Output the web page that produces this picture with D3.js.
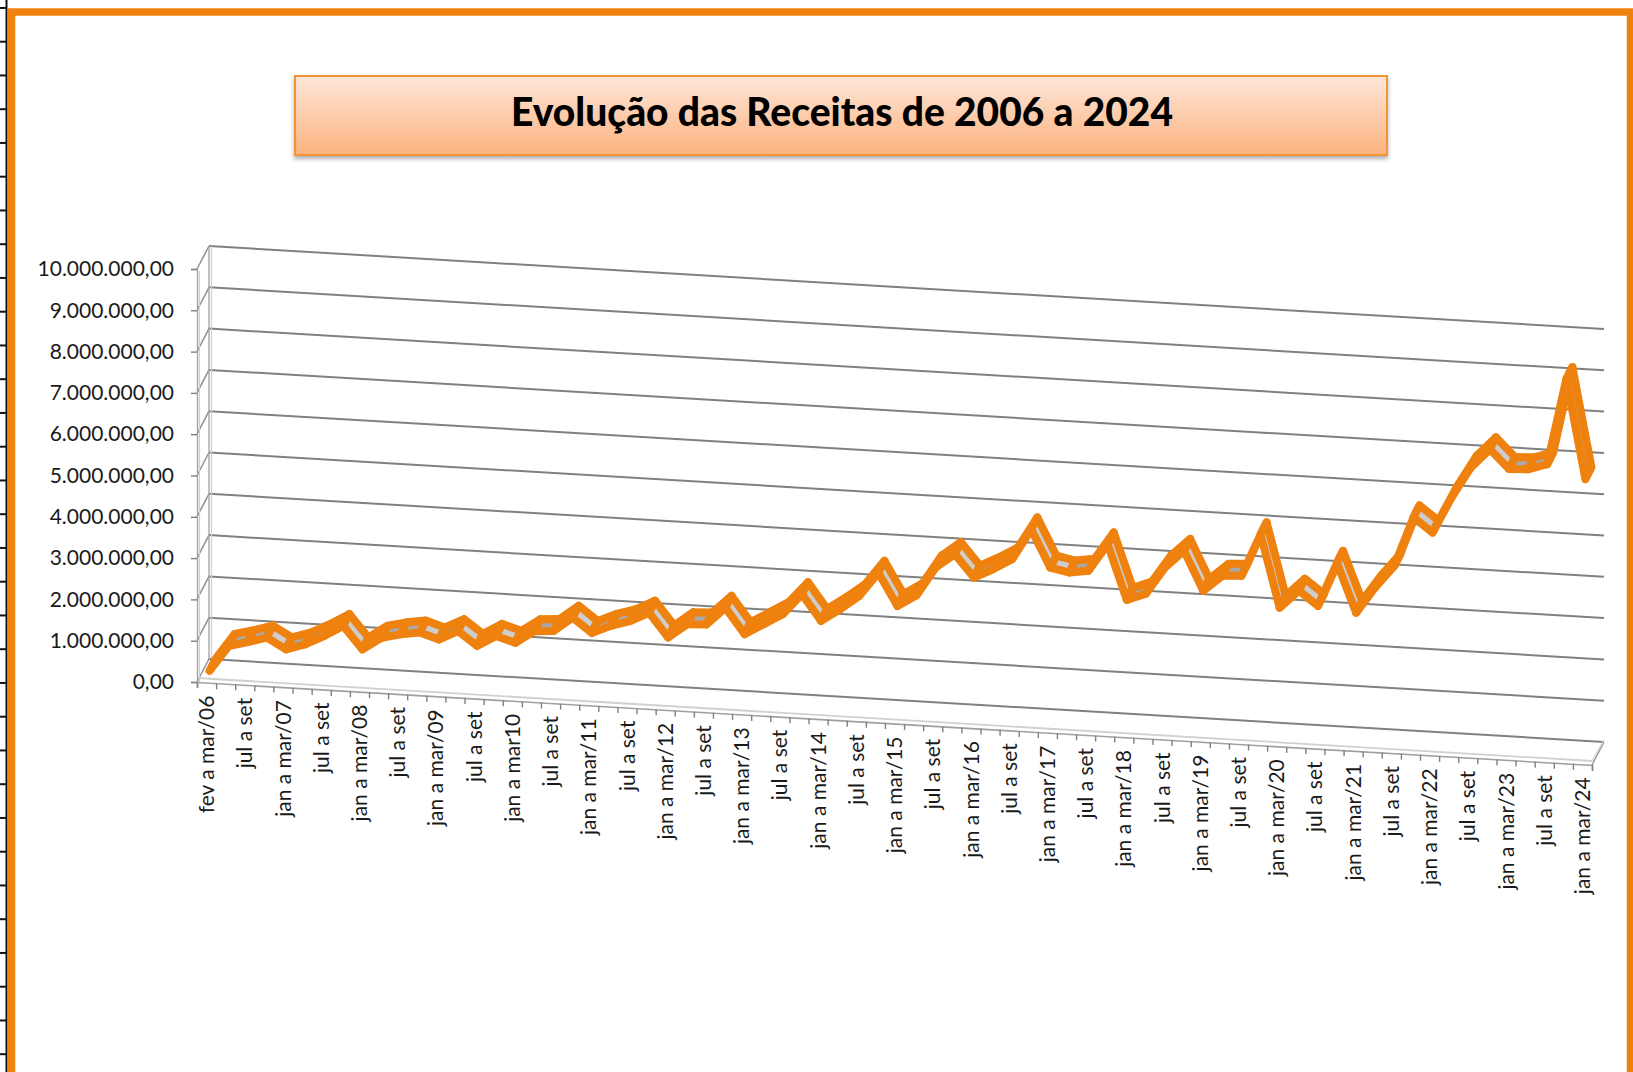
<!DOCTYPE html>
<html><head><meta charset="utf-8">
<script src="https://cdn.jsdelivr.net/npm/d3@7"></script>
<style>html,body{margin:0;padding:0;background:#fff;} svg{display:block;}</style>
</head><body>
<svg id="c" width="1633" height="1072"></svg>
<script>
const title = "Evolução das Receitas de 2006 a 2024";
const categories = [
  "fev a mar/06","abr a jun","jul a set","out a dez",
  "jan a mar/07","abr a jun","jul a set","out a dez",
  "jan a mar/08","abr a jun","jul a set","out a dez",
  "jan a mar/09","abr a jun","jul a set","out a dez",
  "jan a mar10","abr a jun","jul a set","out a dez",
  "jan a mar/11","abr a jun","jul a set","out a dez",
  "jan a mar/12","abr a jun","jul a set","out a dez",
  "jan a mar/13","abr a jun","jul a set","out a dez",
  "jan a mar/14","abr a jun","jul a set","out a dez",
  "jan a mar/15","abr a jun","jul a set","out a dez",
  "jan a mar/16","abr a jun","jul a set","out a dez",
  "jan a mar/17","abr a jun","jul a set","out a dez",
  "jan a mar/18","abr a jun","jul a set","out a dez",
  "jan a mar/19","abr a jun","jul a set","out a dez",
  "jan a mar/20","abr a jun","jul a set","out a dez",
  "jan a mar/21","abr a jun","jul a set","out a dez",
  "jan a mar/22","abr a jun","jul a set","out a dez",
  "jan a mar/23","abr a jun","jul a set","out a dez",
  "jan a mar/24"
];
const receitas = [
  150000, 780000, 900000, 1040000,
  780000, 930000, 1160000, 1430000,
  890000, 1200000, 1310000, 1380000,
  1240000, 1470000, 1140000, 1410000,
  1270000, 1580000, 1610000, 1960000,
  1620000, 1820000, 1960000, 2190000,
  1620000, 1970000, 1990000, 2420000,
  1810000, 2080000, 2350000, 2860000,
  2240000, 2550000, 2900000, 3490000,
  2710000, 3000000, 3700000, 4050000,
  3510000, 3740000, 4010000, 4760000,
  3860000, 3770000, 3840000, 4510000,
  3190000, 3370000, 4030000, 4460000,
  3520000, 3910000, 3940000, 4970000,
  3220000, 3660000, 3320000, 4390000,
  3210000, 3850000, 4400000, 5600000,
  5260000, 6140000, 6890000, 7360000,
  6910000, 6930000, 7080000, 9170000,
  6770000
];
const yTicks = [0,1000000,2000000,3000000,4000000,5000000,6000000,7000000,8000000,9000000,10000000];

const svg = d3.select("#c");
const fmt = d3.formatLocale({decimal:",",thousands:".",grouping:[3],currency:["R$",""]}).format(",.2f");

// defs
const defs = svg.append("defs");
const g1 = defs.append("linearGradient").attr("id","tg").attr("x1",0).attr("y1",0).attr("x2",0).attr("y2",1);
g1.append("stop").attr("offset","0%").attr("stop-color","#fee6d8");
g1.append("stop").attr("offset","100%").attr("stop-color","#fbb27f");
const f = defs.append("filter").attr("id","sh").attr("x","-5%").attr("y","-20%").attr("width","110%").attr("height","160%");
f.append("feDropShadow").attr("dx",0).attr("dy",3).attr("stdDeviation",2).attr("flood-color","#777").attr("flood-opacity",0.6);

// left ruler decoration
svg.append("line").attr("x1",6.5).attr("x2",6.5).attr("y1",0).attr("y2",1072).attr("stroke","#111").attr("stroke-width",2);
svg.append("g").selectAll("line").data(d3.range(-1,31)).join("line")
  .attr("x1",0).attr("x2",7).attr("y1",d=>41.7+d*33.75).attr("y2",d=>41.7+d*33.75)
  .attr("stroke","#111").attr("stroke-width",2);

// orange frame
svg.append("rect").attr("x",11.5).attr("y",12).attr("width",1619).attr("height",1100)
  .attr("fill","#fff").attr("stroke","#f0820f").attr("stroke-width",7.5);

// title box
svg.append("rect").attr("x",295).attr("y",76).attr("width",1092).attr("height",79)
  .attr("fill","url(#tg)").attr("stroke","#f39532").attr("stroke-width",2).attr("filter","url(#sh)");
svg.append("text").attr("x",842).attr("y",126).attr("text-anchor","middle")
  .attr("font-family","Lato, 'Open Sans', sans-serif").attr("font-weight","900").attr("font-size",39)
  .attr("textLength",662).attr("lengthAdjust","spacingAndGlyphs")
  .attr("fill","#000").text(title);

// 3D geometry
const X0=197, Y0=682, LEN=1395, DROP=83, DX=12, DY=23, HGT=413;
const slope = DROP/LEN;
const xs = d3.scaleBand().domain(d3.range(categories.length)).range([0,LEN]);
const bw = xs.bandwidth();
const ys = d3.scaleLinear().domain([0,10000000]).range([0,HGT]);
const proj = (u,v,z) => [X0+u+DX*z, Y0+u*slope-ys(v)-DY*z];

const chart = svg.append("g");
// walls / gridlines
const grid = chart.append("g").attr("stroke","#808080").attr("stroke-width",2).attr("fill","none");
yTicks.forEach(v=>{
  const a=proj(0,v,1), b=proj(LEN,v,1), c=proj(0,v,0);
  grid.append("line").attr("x1",a[0]).attr("y1",a[1]).attr("x2",b[0]).attr("y2",b[1]);
  grid.append("line").attr("x1",a[0]).attr("y1",a[1]).attr("x2",c[0]).attr("y2",c[1]).attr("stroke","#909090").attr("stroke-width",1.5);
});
// back-left vertical edges
{
  const a=proj(0,0,1), b=proj(0,10000000,1);
  chart.append("line").attr("x1",a[0]).attr("y1",a[1]).attr("x2",b[0]).attr("y2",b[1]).attr("stroke","#a0a0a0").attr("stroke-width",1.3);
  chart.append("line").attr("x1",a[0]+2.5).attr("y1",a[1]).attr("x2",b[0]+2.5).attr("y2",b[1]).attr("stroke","#d0d0d0").attr("stroke-width",1.2);
  const c=proj(0,0,0), d=proj(0,10000000,0);
  chart.append("line").attr("x1",c[0]+2.5).attr("y1",c[1]).attr("x2",d[0]+2.5).attr("y2",d[1]+2).attr("stroke","#d0d0d0").attr("stroke-width",1.2);
}
// floor
{
  const fl=proj(0,0,0), fr=proj(LEN,0,0), br=proj(LEN,0,1);
  const floor = chart.append("g").attr("fill","none");
  floor.append("line").attr("x1",fl[0]).attr("y1",fl[1]-4).attr("x2",fr[0]).attr("y2",fr[1]-4).attr("stroke","#d0d0d0").attr("stroke-width",1.8);
  floor.append("line").attr("x1",fr[0]).attr("y1",fr[1]).attr("x2",br[0]).attr("y2",br[1]).attr("stroke","#9a9a9a").attr("stroke-width",1.5);
  floor.append("line").attr("x1",fr[0]).attr("y1",fr[1]-4).attr("x2",br[0]).attr("y2",br[1]-2).attr("stroke","#cfcfcf").attr("stroke-width",1.2);
}

// category axis (skewed group keeps ticks vertical)
const catAxis = d3.axisBottom(d3.scaleLinear().domain([0,categories.length]).range([0,LEN]))
  .tickValues(d3.range(categories.length+1)).tickSize(6).tickFormat("");
chart.append("g").attr("transform",`matrix(1,${slope},0,1,${X0},${Y0})`).call(catAxis)
  .call(g=>g.selectAll("line").attr("stroke","#808080").attr("stroke-width",1.4))
  .call(g=>g.select(".domain").attr("stroke","#a0a0a0").attr("stroke-width",1.6));

chart.append("g").selectAll("text").data(categories.map((c,i)=>({c,i})).filter(d=>d.i%2===0)).join("text")
  .attr("transform",d=>{const p=proj(xs(d.i)+bw/2,0,0);return `translate(${p[0]},${p[1]+13}) rotate(-90)`;})
  .attr("dy","0.36em").attr("text-anchor","end")
  .attr("font-family","Lato, sans-serif").attr("font-size",21).attr("fill","#1a1a1a")
  .text(d=>d.c);

// value axis on front plane
const yAxis = d3.axisLeft(d3.scaleLinear().domain([0,10000000]).range([Y0,Y0-HGT]))
  .tickValues(yTicks).tickSize(6).tickPadding(17).tickFormat(fmt);
chart.append("g").attr("transform",`translate(${X0},0)`).call(yAxis)
  .call(g=>g.select(".domain").attr("stroke","#a0a0a0").attr("stroke-width",1.3))
  .call(g=>g.selectAll(".tick line").attr("stroke","#808080").attr("stroke-width",1.4))
  .call(g=>g.selectAll("text").attr("font-family","Lato, sans-serif").attr("font-size",21).attr("fill","#1a1a1a"));

// series ribbon
const pts = receitas.map((v,i)=>proj(xs(i)+bw/2, v, 0.5));
const rd = [6,-12];
const segs = d3.range(pts.length-1).map(i=>{
  const a=pts[i], b=pts[i+1];
  return {up: receitas[i+1]>=receitas[i], poly:[
    [a[0]-rd[0]/2,a[1]-rd[1]/2],[b[0]-rd[0]/2,b[1]-rd[1]/2],
    [b[0]+rd[0]/2,b[1]+rd[1]/2],[a[0]+rd[0]/2,a[1]+rd[1]/2]]};
});
chart.append("g").selectAll("path").data(segs).join("path")
  .attr("d",d=>"M"+d.poly.map(p=>p.join(",")).join("L")+"Z")
  .attr("fill",d=>d.up?"#a9a9a9":"#cdcdcd")
  .attr("stroke","#ef810f").attr("stroke-width",8).attr("stroke-linejoin","round");
</script>
</body></html>
